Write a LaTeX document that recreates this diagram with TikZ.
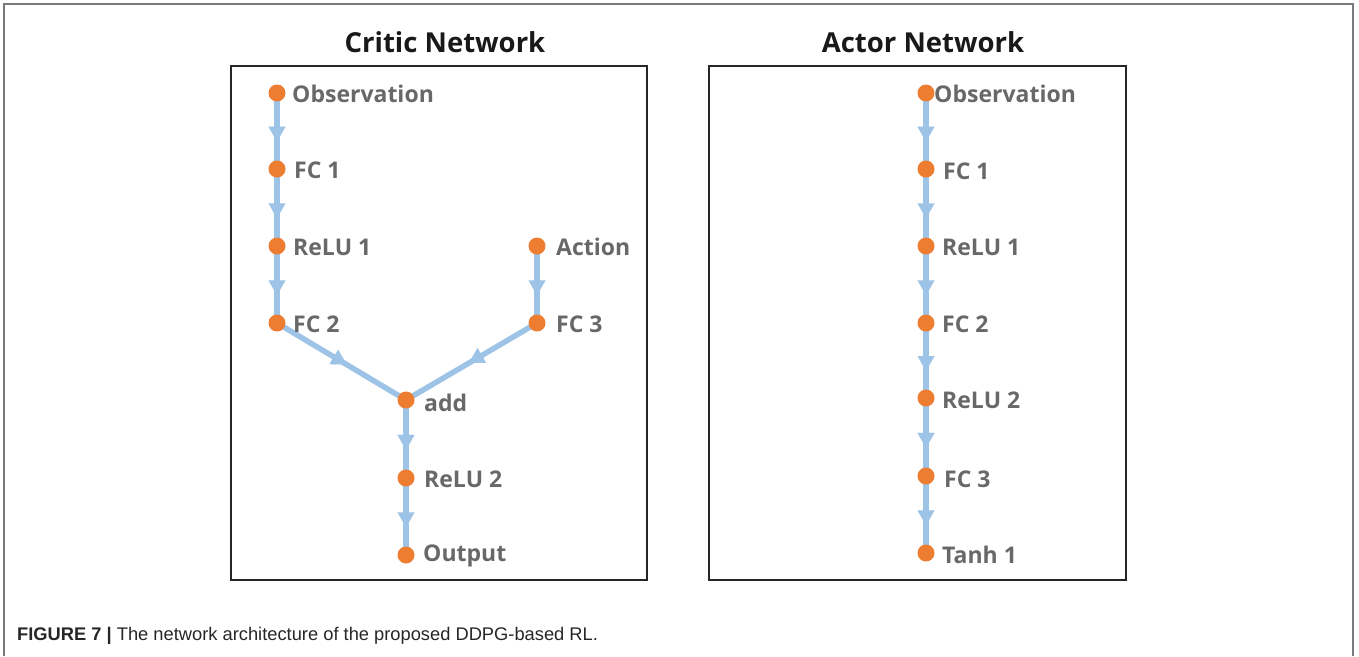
\documentclass[tikz,border=0pt]{standalone}
\usepackage{fontspec}
\setmainfont{Open Sans}
\newfontfamily\capfont{Liberation Sans}
\usetikzlibrary{arrows.meta,decorations.markings}
\definecolor{dotorange}{HTML}{ED7D31}
\definecolor{linkblue}{HTML}{9DC3E6}
\definecolor{lblgray}{HTML}{686868}
\definecolor{framegray}{HTML}{7A7A7A}
\tikzset{
  dot/.style={circle,fill=dotorange,inner sep=0pt,minimum size=16pt},
  lbl/.style={text=lblgray,font=\fontsize{23}{25}\selectfont\bfseries,inner sep=0pt,anchor=west},
  link/.style={draw=linkblue,line width=5.5pt,
    postaction={decorate},
    decoration={markings,mark=at position #1 with {\arrow[linkblue,line width=0.1pt]{Triangle[width=17pt,length=15pt]}}}},
  link/.default=0.64,
  netbox/.style={draw=black!85,line width=1.5pt},
  title/.style={font=\fontsize{27.5}{30}\selectfont\bfseries,text=black!90}
}
\begin{document}
\begin{tikzpicture}[x=1pt,y=-1pt]
\useasboundingbox (0,0) rectangle (1359,656);
% outer frame (open at bottom)
\draw[framegray,line width=1.8pt] (4,656) -- (4,4) -- (1353,4) -- (1353,656);
% boxes
\draw[netbox] (231,66) rectangle (647,580);
\draw[netbox] (709,66) rectangle (1126,580);
\node[title] (tc) at (445,42) {Critic Network};
\node[title] (ta) at (923,42) {Actor Network};
% critic nodes
\node[dot] (cobs) at (277,93) {};
\node[dot] (cfc1) at (277,169) {};
\node[dot] (crelu1) at (277,246) {};
\node[dot] (cfc2) at (277,323) {};
\node[dot] (cact) at (537,246) {};
\node[dot] (cfc3) at (537,323) {};
\node[dot] (cadd) at (406,400) {};
\node[dot] (crelu2) at (406,478) {};
\node[dot] (cout) at (406,555) {};
% critic edges
\draw[link] (cobs.center) -- (cfc1.center);
\draw[link] (cfc1.center) -- (crelu1.center);
\draw[link] (crelu1.center) -- (cfc2.center);
\draw[link] (cact.center) -- (cfc3.center);
\draw[link=0.54] (cfc2.center) -- (cadd.center);
\draw[link=0.52] (cfc3.center) -- (cadd.center);
\draw[link] (cadd.center) -- (crelu2.center);
\draw[link] (crelu2.center) -- (cout.center);
% redraw dots on top
\foreach \n in {cobs,cfc1,crelu1,cfc2,cact,cfc3,cadd,crelu2,cout}
  \fill[dotorange] (\n.center) circle (8.5pt);
% critic labels
\node[lbl] (lcobs) at (292,94) {Observation};
\node[lbl] (lcfc1) at (294,170) {FC 1};
\node[lbl] (lcrelu1) at (293,247) {ReLU 1};
\node[lbl] (lcfc2) at (293,324) {FC 2};
\node[lbl] (lcact) at (556,247) {Action};
\node[lbl] (lcfc3) at (556,324) {FC 3};
\node[lbl] (lcadd) at (424,403) {add};
\node[lbl] (lcrelu2) at (424,479) {ReLU 2};
\node[lbl] (lcout) at (423,556) {Output};
% actor nodes
\node[dot] (aobs) at (926,93) {};
\node[dot] (afc1) at (926,169) {};
\node[dot] (arelu1) at (926,246) {};
\node[dot] (afc2) at (926,323) {};
\node[dot] (arelu2) at (926,398) {};
\node[dot] (afc3) at (926,476) {};
\node[dot] (atanh) at (926,553) {};
\draw[link] (aobs.center) -- (afc1.center);
\draw[link] (afc1.center) -- (arelu1.center);
\draw[link] (arelu1.center) -- (afc2.center);
\draw[link] (afc2.center) -- (arelu2.center);
\draw[link] (arelu2.center) -- (afc3.center);
\draw[link] (afc3.center) -- (atanh.center);
\foreach \n in {aobs,afc1,arelu1,afc2,arelu2,afc3,atanh}
  \fill[dotorange] (\n.center) circle (8.5pt);
\node[lbl] (laobs) at (934,94) {Observation};
\node[lbl] (lafc1) at (943,171) {FC 1};
\node[lbl] (larelu1) at (942,247) {ReLU 1};
\node[lbl] (lafc2) at (942,324) {FC 2};
\node[lbl] (larelu2) at (942,400) {ReLU 2};
\node[lbl] (lafc3) at (944,479) {FC 3};
\node[lbl] (latanh) at (942,555) {Tanh 1};
% caption
\node[anchor=base west,inner sep=0pt,text=black!85,font=\capfont\fontsize{18.3}{21}\selectfont] (cap) at (17,640)
  {\textbf{FIGURE 7} \textbf{|} The network architecture of the proposed DDPG-based RL.};
\end{tikzpicture}
\end{document}
